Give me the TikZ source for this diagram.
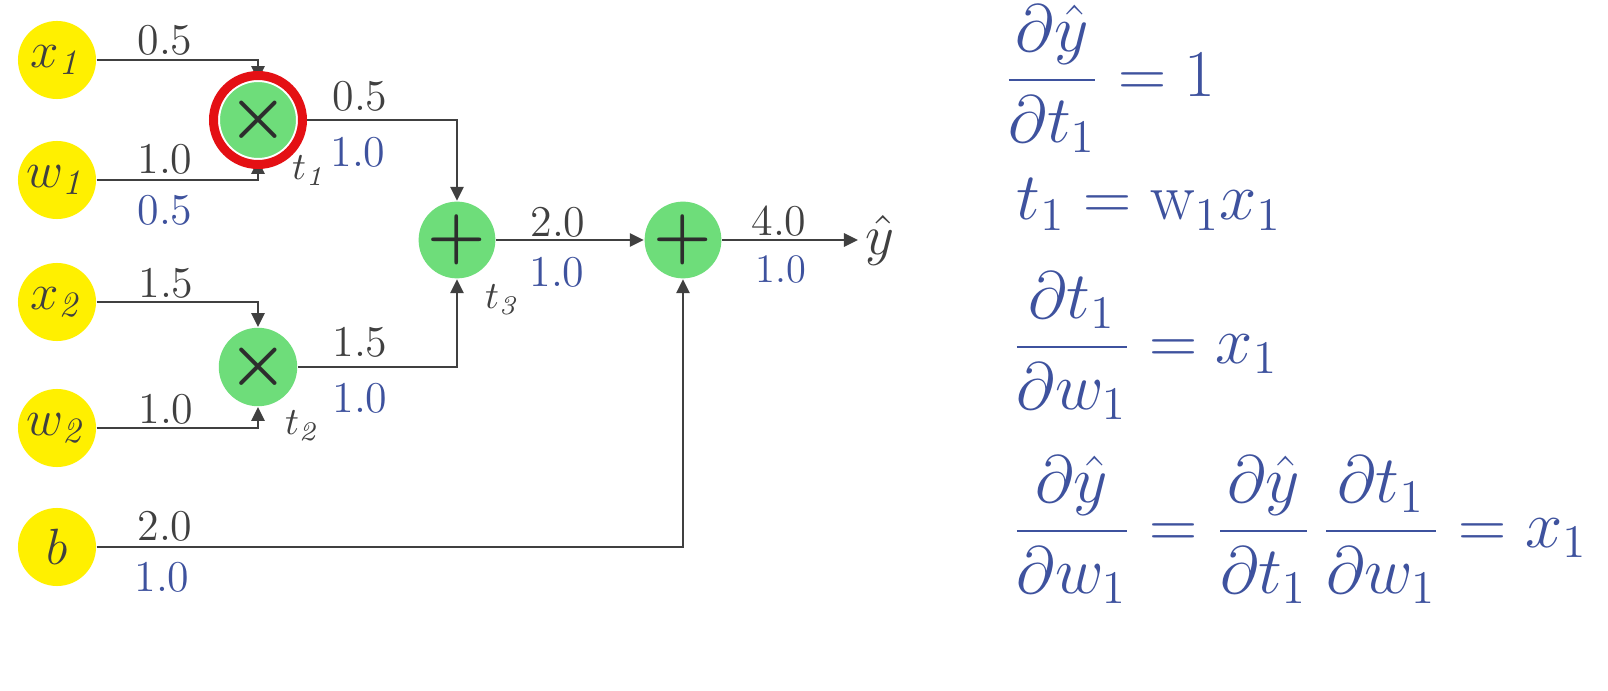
\RequirePackage{fix-cm}
\documentclass[tikz,border=0pt]{standalone}
\usepackage{amsmath}
\usepackage{xcolor}
\usepackage{tikz}
\usetikzlibrary{arrows.meta,positioning,calc}
\definecolor{varyellow}{RGB}{255,240,0}
\definecolor{opgreen}{RGB}{110,221,122}
\definecolor{ringred}{RGB}{228,16,20}
\definecolor{wiregray}{RGB}{64,64,64}
\definecolor{gradblue}{RGB}{62,82,158}
\newcommand{\lblfont}{\fontsize{12.5}{15}\selectfont}
\newcommand{\varfont}{\fontsize{14.5}{17}\selectfont}
\newcommand{\opfont}{\fontsize{19}{19}\selectfont}
\newcommand{\tfont}{\fontsize{11}{13}\selectfont}
\newcommand{\eqfont}{\fontsize{19}{23}\selectfont}

\begin{document}
\begin{tikzpicture}[x=0.01cm, y=-0.01cm,
  varnode/.style={circle, fill=varyellow, minimum size=0.78cm, inner sep=0pt, text=wiregray, font=\varfont},
  opnode/.style={circle, fill=opgreen, minimum size=0.76cm, inner sep=0pt, text=wiregray!70!black, font=\opfont},
  wire/.style={line width=0.027cm, draw=wiregray, -{Triangle[length=0.14cm,width=0.13cm]}},
  fwd/.style={text=wiregray, font=\lblfont, inner sep=0pt},
  grad/.style={text=gradblue, font=\lblfont, inner sep=0pt},
  opname/.style={text=wiregray, font=\tfont, inner sep=0pt},
  eqn/.style={text=gradblue, font=\eqfont, inner sep=0pt}]

% page size
\fill[white] (0,0) rectangle (1608,691);
\useasboundingbox (0,0) rectangle (1608,691);

% Inputs
\node[varnode] (x1) at (57,60)  {$x_{\mathit{1}}$};
\node[varnode] (w1) at (57,180) {$w_{\mathit{1}}$};
\node[varnode] (x2) at (57,302) {$x_{\mathit{2}}$};
\node[varnode] (w2) at (57,428) {$w_{\mathit{2}}$};
\node[varnode] (b)  at (57,547) {$b$};

% Operations
\node[opnode] (t1)  at (258,120) {$\boldsymbol{\times}$};
\node[opnode] (t2)  at (258,367) {$\boldsymbol{\times}$};
\node[opnode] (t3)  at (457,240) {$\boldsymbol{+}$};
\node[opnode] (out) at (683,240) {$\boldsymbol{+}$};
\node[text=wiregray, font=\fontsize{16}{18}\selectfont, inner sep=2pt, anchor=west] (yhat) at (858,240) {$\hat{y}$};

% Wires
\draw[wire] (x1.east) -| (t1.north);
\draw[wire] (w1.east) -| (t1.south);
\draw[wire] (x2.east) -| (t2.north);
\draw[wire] (w2.east) -| (t2.south);
\draw[wire] (t1.east) -| (t3.north);
\draw[wire] (t2.east) -| (t3.south);
\draw[wire] (t3.east) -- (out.west);
\draw[wire] (b.east) -| (out.south);
\draw[wire] (out.east) -- (yhat.west);

% Highlight ring round t1
\draw[white, line width=0.03cm] (t1.center) circle (39.5);
\draw[ringred, line width=0.09cm] (t1.center) circle (44.5);

% Operation names
\node[opname] (nt1) at (310,171) {$t_{\mathit{1}}$};
\node[opname] (nt2) at (303,426) {$t_{\mathit{2}}$};
\node[opname] (nt3) at (503,300) {$t_{\mathit{3}}$};

% Forward values
\node[fwd] (fx1) at (165,40)  {0.5};
\node[fwd] (fw1) at (165,159) {1.0};
\node[fwd] (fx2) at (166,283) {1.5};
\node[fwd] (fw2) at (166,409) {1.0};
\node[fwd] (fb)  at (165,526) {2.0};
\node[fwd] (ft1) at (360,96)  {0.5};
\node[fwd] (ft2) at (360,342) {1.5};
\node[fwd] (ft3) at (558,222) {2.0};
\node[fwd] (fy)  at (779,221) {4.0};

% Gradients
\node[grad] (gw1) at (165,210) {0.5};
\node[grad] (gb)  at (162,577) {1.0};
\node[grad] (gt1) at (358,152) {1.0};
\node[grad] (gt2) at (360,398) {1.0};
\node[grad] (gt3) at (557,272) {1.0};
\node[grad, font=\fontsize{11.5}{14}\selectfont] (gy) at (781,269) {1.0};

% Chain rule
\node[eqn, anchor=west] (eq1) at (1004,79) {$\displaystyle\frac{\partial\hat{y}}{\partial t_1}=1$};
\node[eqn, anchor=base west] (eq2) at (1016,220) {$t_1=\mathrm{w}_1x_1$};
\node[eqn, anchor=west] (eq3) at (1012,346) {$\displaystyle\frac{\partial t_1}{\partial w_1}=x_1$};
\node[eqn, anchor=west] (eq4) at (1012,530) {$\displaystyle\frac{\partial\hat{y}}{\partial w_1}=\frac{\partial\hat{y}}{\partial t_1}\,\frac{\partial t_1}{\partial w_1}=x_1$};

\end{tikzpicture}
\end{document}
